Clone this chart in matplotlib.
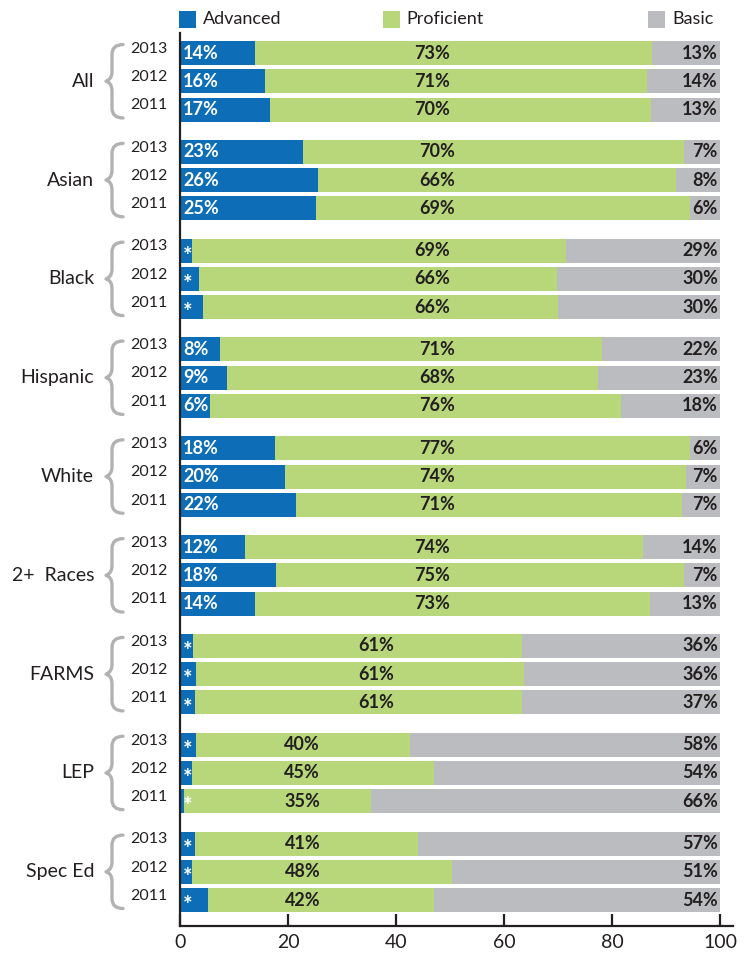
import matplotlib.pyplot as plt
from matplotlib.patches import Rectangle, PathPatch
from matplotlib.path import Path
import matplotlib.transforms as mtransforms

plt.rcParams['font.family'] = ['Lato', 'DejaVu Sans']

groups = ["All", "Asian", "Black", "Hispanic", "White", "2+  Races", "FARMS", "LEP", "Spec Ed"]
years = ["2013", "2012", "2011"]

# bar widths (percent), per group: 2013, 2012, 2011
advanced = [[13.9, 15.7, 16.7], [22.8, 25.6, 25.2], [2.2, 3.5, 4.3],
            [7.4, 8.7, 5.6], [17.6, 19.4, 21.5], [12.0, 17.8, 13.9],
            [2.4, 3.0, 2.8], [3.0, 2.2, 0.7], [2.8, 2.2, 5.2]]
proficient = [[73.5, 70.8, 70.5], [70.5, 66.3, 69.2], [69.3, 66.3, 65.7],
              [70.7, 68.7, 76.1], [76.8, 74.3, 71.5], [73.7, 75.5, 73.1],
              [60.9, 60.7, 60.5], [39.6, 44.8, 34.7], [41.2, 48.2, 41.8]]
basic = [[12.6, 13.5, 12.8], [6.7, 8.1, 5.6], [28.5, 30.2, 30.0],
         [21.9, 22.6, 18.3], [5.6, 6.3, 7.0], [14.3, 6.7, 13.0],
         [36.7, 36.3, 36.7], [57.4, 53.0, 64.6], [56.0, 49.6, 53.0]]

# printed labels
adv_labels = [["14%", "16%", "17%"], ["23%", "26%", "25%"], ["*", "*", "*"],
              ["8%", "9%", "6%"], ["18%", "20%", "22%"], ["12%", "18%", "14%"],
              ["*", "*", "*"], ["*", "*", "*"], ["*", "*", "*"]]
prof_labels = [["73%", "71%", "70%"], ["70%", "66%", "69%"], ["69%", "66%", "66%"],
               ["71%", "68%", "76%"], ["77%", "74%", "71%"], ["74%", "75%", "73%"],
               ["61%", "61%", "61%"], ["40%", "45%", "35%"], ["41%", "48%", "42%"]]
basic_labels = [["13%", "14%", "13%"], ["7%", "8%", "6%"], ["29%", "30%", "30%"],
                ["22%", "23%", "18%"], ["6%", "7%", "7%"], ["14%", "7%", "13%"],
                ["36%", "36%", "37%"], ["58%", "54%", "66%"], ["57%", "51%", "54%"]]

# where the proficient labels sit along x, per group
prof_label_x = [46.7, 47.6, 46.7, 47.6, 47.6, 46.7, 36.3, 22.6, 22.8]

BLUE = "#0d6db6"
GREEN = "#b7d77a"
GRAY = "#bbbcbf"
DARK = "#231f20"
BRACE = "#b2b2b2"

fig = plt.figure(figsize=(7.49, 9.6), dpi=100)
ax = fig.add_axes([180 / 749, 1 - 926 / 960, 553 / 749, 893 / 960])
trans = mtransforms.blended_transform_factory(fig.transFigure, ax.transData)

GAP = 3.5
for i, g in enumerate(groups):
    base = i * GAP
    for j in range(3):
        y = base + j
        a, p, b = advanced[i][j], proficient[i][j], basic[i][j]
        ax.barh(y, a, height=0.85, color=BLUE, linewidth=0)
        ax.barh(y, p, left=a, height=0.85, color=GREEN, linewidth=0)
        ax.barh(y, b, left=a + p, height=0.85, color=GRAY, linewidth=0)

        lab = adv_labels[i][j]
        if lab == "*":
            ax.text(0.6, y + 0.2, lab, color="white", fontsize=16, fontweight="bold",
                    ha="left", va="center")
        else:
            ax.text(0.6, y, lab, color="white", fontsize=13, fontweight="bold",
                    ha="left", va="center")
        ax.text(prof_label_x[i], y, prof_labels[i][j], color=DARK, fontsize=13,
                fontweight="bold", ha="center", va="center")
        ax.text(99.6, y, basic_labels[i][j], color=DARK, fontsize=13,
                fontweight="bold", ha="right", va="center")

        ax.text(130 / 749, y - 0.15, years[j], transform=trans,
                fontsize=11.5, color=DARK, ha="left", va="center")

    ax.text(94 / 749, base + 1, g, transform=trans, fontsize=14, color=DARK,
            ha="right", va="center")

    # curly brace
    xr, xm, xl = 123 / 749, 112 / 749, 106 / 749
    top, mid, bot = base - 0.3, base + 1, base + 2.3
    verts = [(xr, top), (xm, top), (xm, top + 0.35),
             (xm, mid - 0.35), (xm, mid - 0.05), (xl, mid), (xl, mid),
             (xm, mid + 0.05), (xm, mid + 0.35),
             (xm, bot - 0.35), (xm, bot), (xr, bot)]
    codes = [Path.MOVETO, Path.CURVE3, Path.CURVE3,
             Path.LINETO, Path.CURVE4, Path.CURVE4, Path.CURVE4,
             Path.CURVE3, Path.CURVE3,
             Path.LINETO, Path.CURVE3, Path.CURVE3]
    ax.add_patch(PathPatch(Path(verts, codes), transform=trans, fill=False,
                           edgecolor=BRACE, linewidth=2.4, clip_on=False,
                           capstyle="round", joinstyle="round"))

ax.set_xlim(0, 102.4)
ax.set_ylim(30.92, -0.71)
ax.set_xticks([0, 20, 40, 60, 80, 100])
ax.set_yticks([])
ax.tick_params(axis="x", direction="in", length=9, width=1.6, labelsize=14,
               labelcolor=DARK, color=DARK, pad=6)
for s in ["top", "right"]:
    ax.spines[s].set_visible(False)
for s in ["left", "bottom"]:
    ax.spines[s].set_linewidth(1.6)
    ax.spines[s].set_color(DARK)

# legend across the top
leg_items = [("Advanced", BLUE, 179, 203), ("Proficient", GREEN, 383, 406), ("Basic", GRAY, 648, 672)]
for name, col, sx, tx in leg_items:
    fig.add_artist(Rectangle((sx / 749, 1 - 28 / 960), 17 / 749, 17 / 960,
                             transform=fig.transFigure, color=col, linewidth=0))
    fig.text(tx / 749, 1 - 19.5 / 960, name, fontsize=13, color=DARK, ha="left", va="center")

fig.savefig("out.png", dpi=100)
